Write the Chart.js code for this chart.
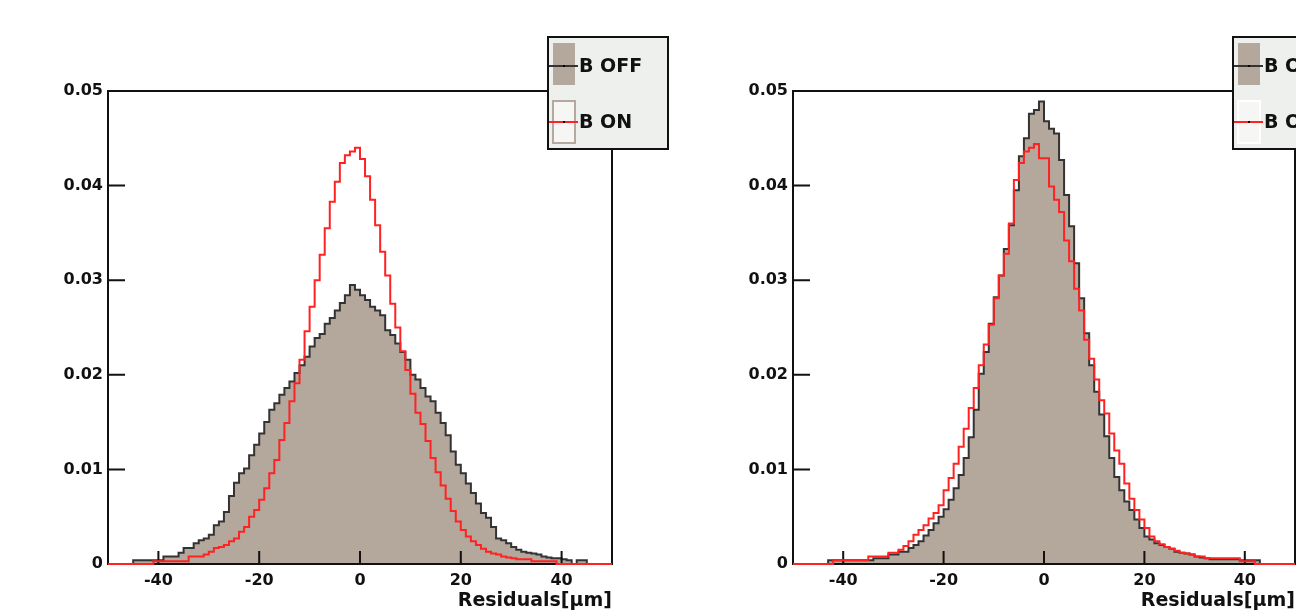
<!DOCTYPE html>
<html><head><meta charset="utf-8">
<script src="https://cdn.jsdelivr.net/npm/chart.js@4.4.1/dist/chart.umd.min.js"></script>
<style>
html,body{margin:0;padding:0;background:#fff;overflow:hidden}
#wrap{position:relative;width:1296px;height:613px}
canvas{position:absolute;top:0}
</style></head>
<body><div id="wrap">
<canvas id="c1" width="690" height="613" style="left:0;width:690px;height:613px"></canvas>
<canvas id="c2" width="606" height="613" style="left:690px;width:606px;height:613px"></canvas>
</div>
<script>
const seriesNames = ['B OFF', 'B ON'];
const xMin = -50, xMax = 50, binWidth = 1;
const xTickValues = [-40, -20, 0, 20, 40];
const xTickLabels = ['-40', '-20', '0', '20', '40'];
const yTickValues = [0, 0.01, 0.02, 0.03, 0.04, 0.05];
const yTickLabels = ['0', '0.01', '0.02', '0.03', '0.04', '0.05'];
const xTitle = 'Residuals[µm]';

const leftOff = [0,0,0,0,0,0,0.0004,0.0004,0.0004,0.0004,
 0.0004,0.0004,0.0008,0.0008,0.0008,0.0012,0.0017,0.0017,0.0022,0.0025,
 0.0027,0.0031,0.0041,0.0045,0.0055,0.0072,0.0086,0.0096,0.0101,0.0115,
 0.0126,0.0138,0.015,0.0163,0.017,0.0179,0.0186,0.0193,0.0202,0.021,
 0.0219,0.023,0.0239,0.0243,0.0254,0.026,0.0268,0.0276,0.0284,0.0295,
 0.029,0.0284,0.0279,0.0272,0.0268,0.0263,0.0247,0.0242,0.0233,0.0224,
 0.0216,0.02,0.0195,0.0186,0.0177,0.0172,0.016,0.0149,0.0136,0.0119,
 0.0105,0.0096,0.0085,0.0075,0.0064,0.0054,0.0049,0.0039,0.0027,0.0025,
 0.0022,0.0018,0.0015,0.0013,0.0012,0.0011,0.001,0.0008,0.0007,0.0006,
 0.0006,0.0005,0.0004,0,0.0004,0.0004,0,0,0,0];

const leftOn = [0,0,0,0,0,0,0,0,0,0,
 0.0003,0.0003,0.0003,0.0003,0.0003,0.0003,0.0003,0.0008,0.0008,0.0008,
 0.001,0.0013,0.0017,0.0018,0.002,0.0024,0.0027,0.0034,0.0039,0.005,
 0.0057,0.0068,0.008,0.0096,0.011,0.0131,0.0149,0.0172,0.0191,0.0216,
 0.0246,0.0272,0.03,0.0327,0.0355,0.0383,0.0404,0.0424,0.0432,0.0436,
 0.044,0.0428,0.041,0.0385,0.0358,0.033,0.0305,0.0275,0.025,0.0225,
 0.0205,0.018,0.016,0.0148,0.013,0.0112,0.0097,0.0083,0.0069,0.0056,
 0.0045,0.0036,0.0029,0.0024,0.002,0.0016,0.0013,0.0011,0.001,0.0008,
 0.0007,0.0006,0.0005,0.0005,0.0005,0.0003,0.0003,0.0003,0.0003,0.0003,
 0,0,0,0,0,0,0,0,0,0];

const rightOff = [0,0,0,0,0,0,0,0,0.0004,0.0004,
 0.0004,0.0004,0.0004,0.0004,0.0004,0.0004,0.0004,0.0006,0.0006,0.0006,
 0.001,0.001,0.0013,0.0013,0.0017,0.002,0.0024,0.003,0.0036,0.0043,
 0.005,0.0058,0.0068,0.008,0.0094,0.0112,0.0134,0.0163,0.0201,0.0224,
 0.0254,0.0282,0.0305,0.0333,0.0358,0.0395,0.0431,0.045,0.0476,0.048,
 0.0489,0.0468,0.046,0.0455,0.0427,0.039,0.0357,0.0318,0.0281,0.0244,
 0.021,0.0182,0.0158,0.0135,0.0112,0.0092,0.0078,0.0066,0.0057,0.0047,
 0.0038,0.0029,0.0026,0.0022,0.002,0.0018,0.0016,0.0013,0.0012,0.0011,
 0.001,0.0008,0.0007,0.0006,0.0005,0.0005,0.0005,0.0005,0.0005,0.0005,
 0.0004,0.0004,0.0004,0.0004,0,0,0,0,0,0];

const rightOn = [0,0,0,0,0,0,0,0,0,0.0004,
 0.0004,0.0004,0.0004,0.0004,0.0004,0.0004,0.0008,0.0008,0.0008,0.0008,
 0.0012,0.0012,0.0015,0.0019,0.0024,0.0031,0.0036,0.0041,0.0048,0.0054,
 0.0062,0.0078,0.0091,0.0106,0.0124,0.0143,0.0165,0.0186,0.021,0.0232,
 0.0253,0.0281,0.0305,0.0328,0.036,0.0406,0.0424,0.0436,0.044,0.0444,
 0.0429,0.0429,0.0399,0.0385,0.0372,0.0342,0.032,0.0291,0.0268,0.0237,
 0.0217,0.0195,0.0173,0.0159,0.0138,0.012,0.0106,0.0085,0.0069,0.0057,
 0.0047,0.0038,0.0029,0.0024,0.0021,0.0018,0.0016,0.0014,0.0012,0.0011,
 0.001,0.0008,0.0008,0.0006,0.0006,0.0006,0.0006,0.0006,0.0006,0.0006,
 0.0003,0.0003,0.0003,0,0,0,0,0,0,0];

const OFF_FILL = 'rgb(180,167,156)';
const OFF_LINE = '#333333';
const ON_LINE = '#ff2222';
const TXT = '#111111';
const FONT = 'DejaVu Sans';

function toSteps(vals) {
  const pts = vals.map((v, i) => ({ x: xMin + i * binWidth, y: v }));
  pts.push({ x: xMin + vals.length * binWidth, y: vals[vals.length - 1] });
  return pts;
}

function makeChart(id, offVals, onVals, g) {
  const framePlugin = {
    id: 'frame',
    afterDatasetDraw(chart, args) {
      if (args.index !== 0) return;
      const { ctx, chartArea: a, scales: { x, y } } = chart;
      ctx.save();
      ctx.strokeStyle = TXT; ctx.lineWidth = 2;
      ctx.strokeRect(a.left, a.top, a.right - a.left, a.bottom - a.top);
      ctx.beginPath();
      x.ticks.forEach(t => { const px = x.getPixelForValue(t.value); ctx.moveTo(px, a.bottom); ctx.lineTo(px, a.bottom - 13); });
      y.ticks.forEach(t => { const py = y.getPixelForValue(t.value); ctx.moveTo(a.left, py); ctx.lineTo(a.left + 17, py); });
      ctx.stroke();
      ctx.restore();
    },
    afterDraw(chart) {
      const { ctx, chartArea: a } = chart;
      const L = a.right - g.legendOffset, T = 37, W = 120, H = 112;
      ctx.save();
      ctx.fillStyle = '#eef0ee'; ctx.fillRect(L, T, W, H);
      ctx.strokeStyle = TXT; ctx.lineWidth = 2; ctx.strokeRect(L, T, W, H);
      ctx.fillStyle = OFF_FILL; ctx.fillRect(L + 5, T + 6, 22, 42);
      ctx.strokeStyle = OFF_LINE; ctx.lineWidth = 2;
      ctx.beginPath(); ctx.moveTo(L + 1, T + 29); ctx.lineTo(L + 30, T + 29); ctx.stroke();
      ctx.fillStyle = '#000'; ctx.fillRect(L + 15, T + 28, 2, 2);
      ctx.fillStyle = '#f6f6f4'; ctx.fillRect(L + 5, T + 64, 22, 42);
      ctx.strokeStyle = g.onBoxBorder; ctx.lineWidth = 2; ctx.strokeRect(L + 5, T + 64, 22, 42);
      ctx.strokeStyle = ON_LINE; ctx.lineWidth = 2;
      ctx.beginPath(); ctx.moveTo(L + 1, T + 85); ctx.lineTo(L + 30, T + 85); ctx.stroke();
      ctx.fillStyle = '#000'; ctx.fillRect(L + 15, T + 84, 2, 2);
      ctx.fillStyle = TXT; ctx.font = 'bold 19px "' + FONT + '"'; ctx.textBaseline = 'middle'; ctx.textAlign = 'left';
      ctx.fillText(chart.data.datasets[0].label, L + 31, T + 30);
      ctx.fillText(chart.data.datasets[1].label, L + 31, T + 86);
      ctx.restore();
    }
  };

  return new Chart(document.getElementById(id), {
    type: 'line',
    data: {
      datasets: [
        { label: seriesNames[0], data: toSteps(offVals), stepped: 'after', borderColor: OFF_LINE, borderWidth: 2,
          backgroundColor: OFF_FILL, fill: 'origin', pointRadius: 0, order: 1, clip: 2 },
        { label: seriesNames[1], data: toSteps(onVals), stepped: 'after', borderColor: ON_LINE, borderWidth: 2,
          fill: false, pointRadius: 0, order: 0, clip: 2 }
      ]
    },
    options: {
      responsive: false, animation: false,
      layout: { padding: { left: 0, right: g.padRight, top: 91, bottom: 0 } },
      plugins: { legend: { display: false }, tooltip: { enabled: false } },
      scales: {
        x: {
          type: 'linear', min: xMin, max: xMax,
          afterBuildTicks: s => { s.ticks = xTickValues.map(v => ({ value: v })); },
          ticks: { callback: v => xTickLabels[xTickValues.indexOf(v)], autoSkip: false, maxRotation: 0,
            font: { family: FONT, weight: 'bold', size: 16 }, color: TXT, padding: 7 },
          grid: { display: false, drawTicks: false }, border: { display: false },
          title: { display: true, text: xTitle, align: 'end', color: TXT,
            font: { family: FONT, weight: 'bold', size: 19 }, padding: { top: 0, bottom: 1 } },
          afterFit: s => { s.height = 49; }
        },
        y: {
          type: 'linear', min: 0, max: 0.05,
          afterBuildTicks: s => { s.ticks = yTickValues.map(v => ({ value: v })); },
          ticks: { callback: v => yTickLabels[yTickValues.indexOf(v)],
            font: { family: FONT, weight: 'bold', size: 16 }, color: TXT, padding: 5 },
          grid: { display: false, drawTicks: false }, border: { display: false },
          afterFit: s => { s.width = g.yWidth; }
        }
      }
    },
    plugins: [framePlugin]
  });
}

makeChart('c1', leftOff, leftOn, { yWidth: 108, padRight: 78, legendOffset: 64, onBoxBorder: '#b5a89e' });
makeChart('c2', rightOff, rightOn, { yWidth: 103, padRight: 1, legendOffset: 62, onBoxBorder: '#ffffff' });
</script>
</body></html>
